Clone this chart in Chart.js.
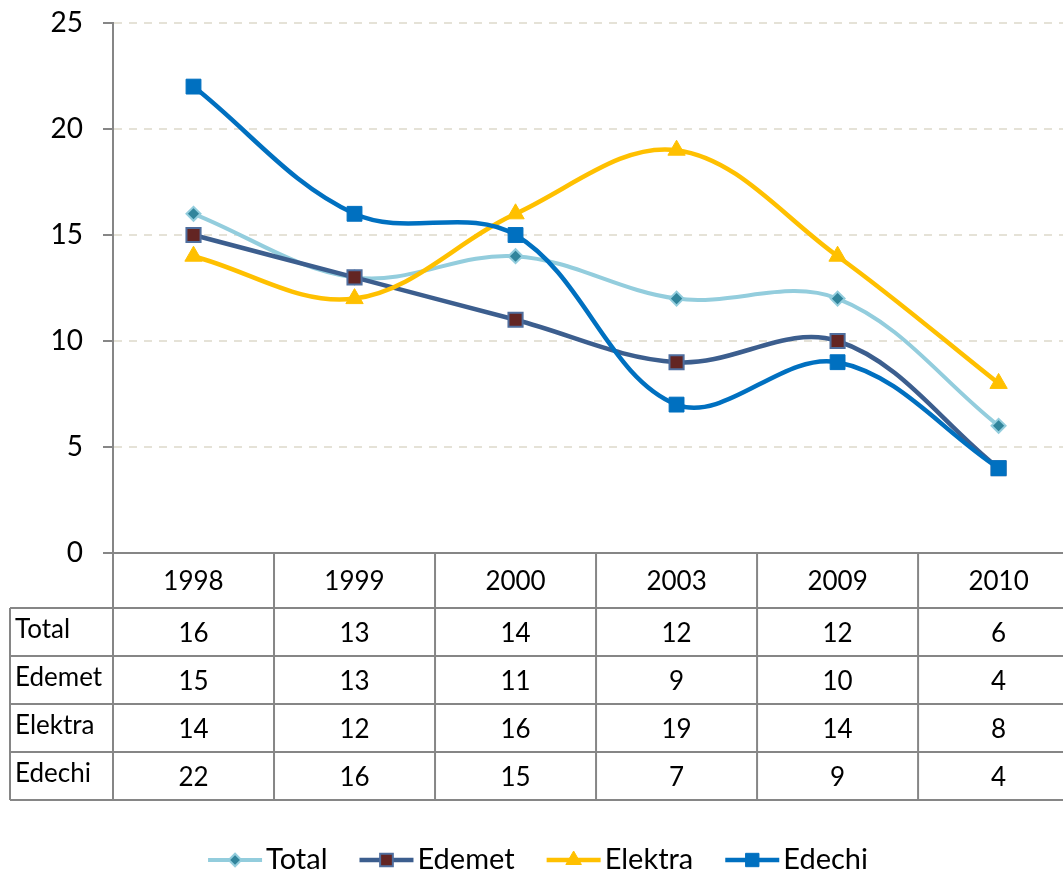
<!DOCTYPE html>
<html>
<head>
<meta charset="utf-8">
<script src="https://cdn.jsdelivr.net/npm/chart.js@4.4.1/dist/chart.umd.min.js"></script>
<style>
  html, body { margin: 0; padding: 0; background: #ffffff; overflow: hidden; }
  #wrap { width: 1063px; height: 874px; }
</style>
</head>
<body>
<div id="wrap"><canvas id="c" width="1063" height="874"></canvas></div>
<script>
const categories = ['1998', '1999', '2000', '2003', '2009', '2010'];
const totalValues = [16, 13, 14, 12, 12, 6];
const edemetValues = [15, 13, 11, 9, 10, 4];
const elektraValues = [14, 12, 16, 19, 14, 8];
const edechiValues = [22, 16, 15, 7, 9, 4];
const seriesNames = ['Total', 'Edemet', 'Elektra', 'Edechi'];
const yTickValues = [0, 5, 10, 15, 20, 25];

const FONT = 'Lato, "Open Sans", sans-serif';
const GRAY = '#868686';

const styles = [
  { line: '#93CDDD', fill: '#31859C', border: '#93CDDD', pointStyle: 'rectRot', radius: 7, bw: 2, lw: 4 },
  { line: '#3C5E8E', fill: '#632523', border: '#4F6E9E', pointStyle: 'rect', radius: 10, bw: 2, lw: 4.5 },
  { line: '#FFC000', fill: '#FFC000', border: '#FFC000', pointStyle: 'triangle', radius: 10, bw: 1, lw: 4.5 },
  { line: '#0070C0', fill: '#0070C0', border: '#0070C0', pointStyle: 'rect', radius: 10.5, bw: 1, lw: 4.5 }
];
const seriesValues = [totalValues, edemetValues, elektraValues, edechiValues];

const datasets = seriesNames.map((name, k) => ({
  label: name,
  order: seriesNames.length - k,
  data: seriesValues[k].map((v, i) => ({ x: i, y: v })),
  borderColor: styles[k].line,
  borderWidth: styles[k].lw,
  backgroundColor: styles[k].fill,
  pointStyle: styles[k].pointStyle,
  pointRadius: styles[k].radius,
  pointBackgroundColor: styles[k].fill,
  pointBorderColor: styles[k].border,
  pointBorderWidth: styles[k].bw,
  tension: 0.36,
  fill: false
}));

const tablePlugin = {
  id: 'tableAndLegend',
  afterDraw(chart) {
    const ctx = chart.ctx;
    const xs = chart.scales.x, ys = chart.scales.y;
    const top = ys.getPixelForValue(0);
    const axisX = chart.chartArea.left;
    const left = 10;
    const right = chart.width + 30;
    const headH = 55, rowH = 48;
    const bottom = top + headH + rowH * seriesNames.length;

    ctx.save();
    ctx.strokeStyle = GRAY;
    ctx.lineWidth = 2;
    ctx.beginPath();
    ctx.moveTo(axisX, top); ctx.lineTo(right, top);
    for (let r = 0; r <= seriesNames.length; r++) {
      const yy = top + headH + r * rowH;
      ctx.moveTo(left, yy); ctx.lineTo(right, yy);
    }
    ctx.moveTo(axisX, top); ctx.lineTo(axisX, bottom);
    ctx.moveTo(left, top + headH); ctx.lineTo(left, bottom);
    for (let i = 0; i < categories.length; i++) {
      const px = xs.getPixelForValue(i + 0.5);
      ctx.moveTo(px, top); ctx.lineTo(px, bottom);
    }
    ctx.stroke();

    ctx.fillStyle = '#000';
    ctx.font = '26px ' + FONT;
    ctx.textBaseline = 'middle';
    ctx.textAlign = 'center';
    categories.forEach((c, i) => {
      ctx.fillText(c, xs.getPixelForValue(i), top + headH / 2 + 1);
    });
    seriesNames.forEach((name, r) => {
      const cy = top + headH + r * rowH + rowH / 2;
      ctx.textAlign = 'left';
      ctx.fillText(name, left + 5, cy - 2);
      ctx.textAlign = 'center';
      seriesValues[r].forEach((v, i) => {
        ctx.fillText(String(v), xs.getPixelForValue(i), cy + 2);
      });
    });

    // legend
    ctx.font = '29px ' + FONT;
    const lineLen = 54, gapText = 4, gapItem = 32;
    const widths = seriesNames.map(n => ctx.measureText(n).width);
    let total = 0;
    widths.forEach((w, k) => { total += lineLen + gapText + w + (k < widths.length - 1 ? gapItem : 0); });
    let lx = 538 - total / 2;
    const ly = 860;
    seriesNames.forEach((name, k) => {
      const s = styles[k];
      ctx.strokeStyle = s.line;
      ctx.lineWidth = s.lw;
      ctx.beginPath();
      ctx.moveTo(lx, ly); ctx.lineTo(lx + lineLen, ly);
      ctx.stroke();
      ctx.fillStyle = s.fill;
      ctx.strokeStyle = s.border;
      ctx.lineWidth = s.bw;
      Chart.helpers.drawPoint(ctx, { pointStyle: s.pointStyle, radius: s.radius * 0.9, rotation: 0, borderWidth: s.bw }, lx + lineLen / 2, ly);
      ctx.fillStyle = '#000';
      ctx.textAlign = 'left';
      ctx.textBaseline = 'middle';
      ctx.fillText(name, lx + lineLen + gapText, ly);
      lx += lineLen + gapText + widths[k] + gapItem;
    });
    ctx.restore();
  }
};

new Chart(document.getElementById('c'), {
  type: 'line',
  data: { datasets },
  plugins: [tablePlugin],
  options: {
    responsive: false,
    animation: false,
    devicePixelRatio: 1,
    layout: { autoPadding: false, padding: { top: 23, right: 0, bottom: 321, left: 0 } },
    plugins: { legend: { display: false }, tooltip: { enabled: false } },
    scales: {
      x: {
        type: 'linear',
        min: -0.5,
        max: 5.4,
        display: false
      },
      y: {
        min: 0,
        max: 25,
        afterBuildTicks(scale) { scale.ticks = yTickValues.map(v => ({ value: v })); },
        afterFit(scale) { scale.width = 113; scale.paddingTop = 0; scale.paddingBottom = 0; },
        ticks: {
          color: '#000',
          font: { family: FONT, size: 28 },
          padding: 20
        },
        grid: {
          color: (c) => (c.tick && c.tick.value === 0) ? 'rgba(0,0,0,0)' : '#E5E2D7',
          lineWidth: 2,
          tickColor: GRAY,
          tickLength: 10,
          tickWidth: 2
        },
        border: { display: true, color: GRAY, width: 2, dash: [8, 7] }
      }
    }
  }
});
</script>
</body>
</html>
